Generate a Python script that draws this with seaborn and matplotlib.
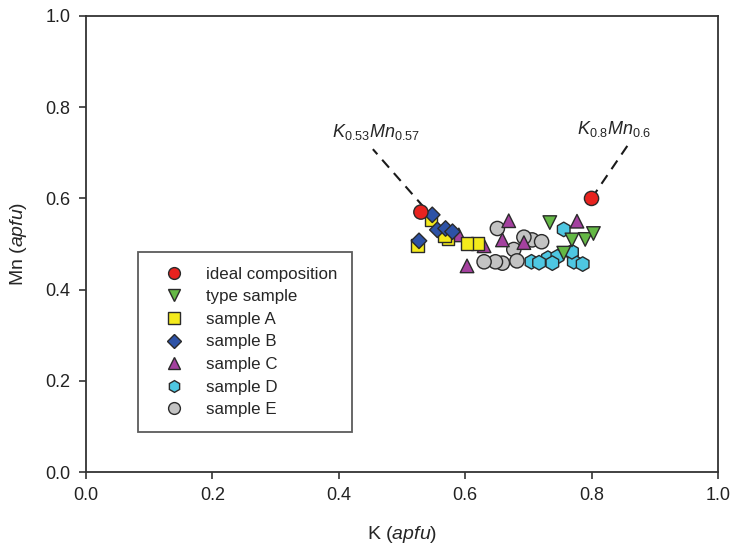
import pandas as pd
import matplotlib.pyplot as plt
import seaborn as sns

# K vs Mn (apfu) for each group
ideal_k = [0.53, 0.80]
ideal_mn = [0.57, 0.60]

type_k = [0.734, 0.769, 0.790, 0.803, 0.756]
type_mn = [0.547, 0.509, 0.510, 0.523, 0.480]

a_k = [0.546, 0.567, 0.573, 0.603, 0.619, 0.525]
a_mn = [0.554, 0.518, 0.512, 0.501, 0.501, 0.496]

b_k = [0.548, 0.556, 0.569, 0.580, 0.527]
b_mn = [0.564, 0.531, 0.534, 0.527, 0.507]

c_k = [0.590, 0.630, 0.603, 0.669, 0.659, 0.693, 0.777]
c_mn = [0.520, 0.496, 0.452, 0.551, 0.509, 0.503, 0.550]

d_k = [0.705, 0.717, 0.731, 0.738, 0.746, 0.769, 0.772, 0.786, 0.756, 0.769]
d_mn = [0.461, 0.459, 0.469, 0.458, 0.472, 0.481, 0.461, 0.456, 0.532, 0.483]

e_k = [0.630, 0.648, 0.651, 0.677, 0.693, 0.706, 0.721, 0.659, 0.682]
e_mn = [0.461, 0.461, 0.534, 0.488, 0.515, 0.509, 0.505, 0.458, 0.463]

groups = ["ideal composition", "type sample", "sample A", "sample B",
          "sample C", "sample D", "sample E"]
kvals = [ideal_k, type_k, a_k, b_k, c_k, d_k, e_k]
mnvals = [ideal_mn, type_mn, a_mn, b_mn, c_mn, d_mn, e_mn]

rows = []
for g, ks, ms in zip(groups, kvals, mnvals):
    for k, m in zip(ks, ms):
        rows.append({"K": k, "Mn": m, "group": g})
df = pd.DataFrame(rows)

# draw order: E and D first so the others sit on top
order = ["sample E", "sample D", "type sample", "sample C", "sample A",
         "sample B", "ideal composition"]
df["z"] = df["group"].map({g: i for i, g in enumerate(order)})
df = df.sort_values("z")

palette = {"ideal composition": "#e8231f", "type sample": "#64b845",
           "sample A": "#f4ea1c", "sample B": "#2d52a6",
           "sample C": "#a4419f", "sample D": "#4ec7e2",
           "sample E": "#c3c3c3"}
markers = {"ideal composition": "o", "type sample": "v", "sample A": "s",
           "sample B": "D", "sample C": "^", "sample D": "h",
           "sample E": "o"}
sizes = {"ideal composition": 105, "type sample": 95, "sample A": 85,
         "sample B": 62, "sample C": 95, "sample D": 110, "sample E": 105}

sns.set_style("ticks")
plt.rcParams["font.family"] = ["Liberation Sans", "DejaVu Sans"]
plt.rcParams["mathtext.fontset"] = "custom"
plt.rcParams["mathtext.it"] = "Liberation Sans:italic"
plt.rcParams["mathtext.rm"] = "Liberation Sans"

fig = plt.figure(figsize=(7.31, 5.46), dpi=100)
ax = fig.add_axes([0.1176, 0.1355, 0.8645, 0.8352])

# dashed leader lines to the formula labels
ax.plot([0.535, 0.454], [0.58, 0.708], ls=(0, (5, 3.5)), color="#1a1a1a", lw=1.5, zorder=1)
ax.plot([0.80, 0.861], [0.60, 0.724], ls=(0, (5, 3.5)), color="#1a1a1a", lw=1.5, zorder=1)

sns.scatterplot(data=df, x="K", y="Mn", hue="group", style="group", size="group",
                hue_order=groups, style_order=groups, size_order=groups,
                palette=palette, markers=markers, sizes=sizes,
                edgecolor="#2a2a2a", linewidth=1.0, ax=ax, zorder=3)

ax.text(0.459, 0.745, r"$\mathit{K_{0.53}Mn_{0.57}}$", ha="center", va="center", fontsize=13)
ax.text(0.835, 0.753, r"$\mathit{K_{0.8}Mn_{0.6}}$", ha="center", va="center", fontsize=13)

ax.set_xlim(0, 1.0)
ax.set_ylim(0, 1.0)
ax.set_xticks([0.0, 0.2, 0.4, 0.6, 0.8, 1.0])
ax.set_yticks([0.0, 0.2, 0.4, 0.6, 0.8, 1.0])
ax.set_xticklabels(["0.0", "0.2", "0.4", "0.6", "0.8", "1.0"])
ax.set_yticklabels(["0.0", "0.2", "0.4", "0.6", "0.8", "1.0"])
ax.tick_params(direction="out", length=5, width=1.2, color="#333333",
               labelsize=13, labelcolor="#222222", pad=6)
for sp in ax.spines.values():
    sp.set_visible(True)
    sp.set_linewidth(1.3)
    sp.set_color("#333333")

ax.set_xlabel("K ($\\mathit{apfu}$)", fontsize=14, labelpad=14)
ax.set_ylabel("Mn ($\\mathit{apfu}$)", fontsize=14, labelpad=12)

handles, labels = ax.get_legend_handles_labels()
for h in handles:
    h.set_markersize(8.5 if h.get_marker() != "D" else 7)
leg = ax.legend(handles, labels, loc="upper left", bbox_to_anchor=(0.082, 0.482),
                fontsize=12.2, frameon=True, fancybox=False, labelspacing=0.45,
                handletextpad=0.6, borderpad=0.85, borderaxespad=0,
                handlelength=2.6, edgecolor="#333333")
leg.get_frame().set_linewidth(1.3)

fig.savefig("out.png", dpi=100)
